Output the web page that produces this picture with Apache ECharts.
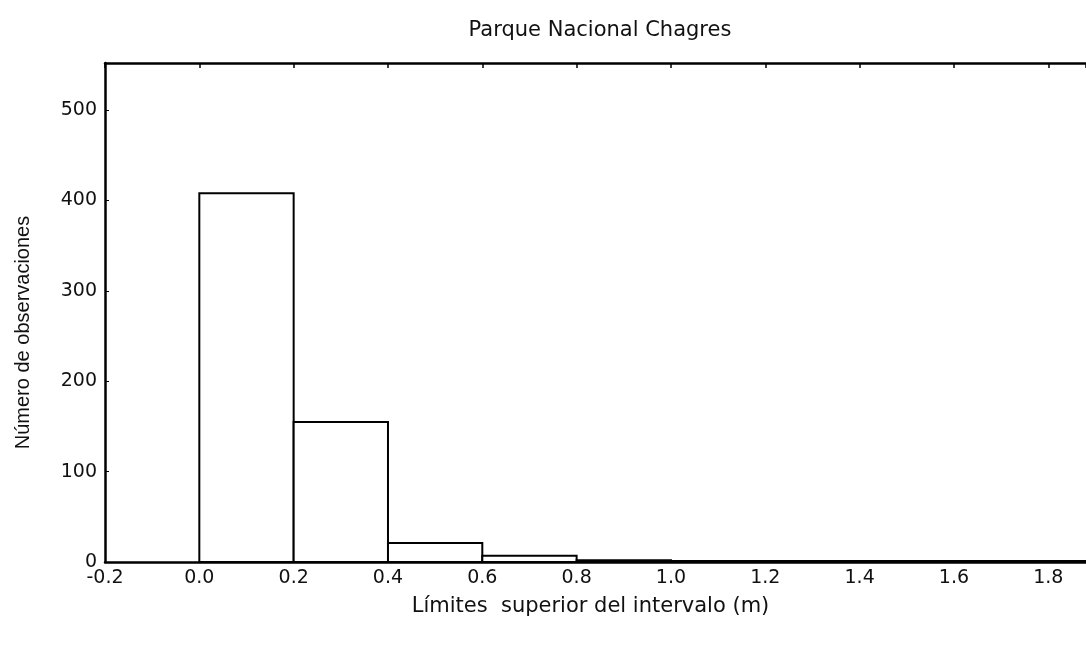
<!DOCTYPE html>
<html>
<head>
<meta charset="utf-8">
<script src="https://cdn.jsdelivr.net/npm/echarts@6/dist/echarts.min.js"></script>
<style>
  html, body { margin: 0; padding: 0; background: #fff; }
  #chart { width: 1086px; height: 646px; }
</style>
</head>
<body>
<div id="chart"></div>
<script>
// histogram bins (m) and counts
var binStart = [0.0, 0.2, 0.4, 0.6, 0.8, 1.0, 1.2, 1.4, 1.6, 1.8];
var binEnd   = [0.2, 0.4, 0.6, 0.8, 1.0, 1.2, 1.4, 1.6, 1.8, 2.0];
var counts   = [408, 155, 21, 7, 2, 1, 1, 1, 1, 1];

var titleText = "Parque Nacional Chagres";
var xName = "Límites  superior del intervalo (m)";
var yName = "Número de observaciones";

var histData = [];
binStart.forEach(function (lo, i) {
  histData.push([lo, binEnd[i], counts[i]]);
});

var font = "DejaVu Sans, Arial, sans-serif";
var fontNarrow = "Liberation Sans, Arial, sans-serif";

var option = {
  animation: false,
  backgroundColor: "#fff",
  title: {
    text: titleText,
    left: 595,
    top: 15,
    textAlign: "center",
    textStyle: { fontFamily: font, fontSize: 21, fontWeight: "normal", color: "#111" }
  },
  grid: { left: 105, right: 0, top: 63, bottom: 84 },
  xAxis: [
    {
      type: "value",
      min: -0.2,
      max: 1.88,
      interval: 0.2,
      position: "bottom",
      name: xName,
      nameLocation: "middle",
      nameGap: 34,
      nameTextStyle: { fontFamily: font, fontSize: 21, color: "#111", padding: [0, 10, 0, 0] },
      axisLine: { onZero: false, lineStyle: { color: "#000", width: 2.5 } },
      axisTick: { show: false },
      axisLabel: {
        showMaxLabel: false,
        margin: 7,
        fontFamily: font,
        fontSize: 19,
        color: "#111",
        formatter: function (v) { return v.toFixed(1); }
      },
      splitLine: { show: false }
    },
    {
      type: "value",
      min: -0.2,
      max: 1.88,
      interval: 0.2,
      position: "top",
      axisLine: { onZero: false, lineStyle: { color: "#000", width: 2.5 } },
      axisTick: { inside: true, length: 5, lineStyle: { color: "#000", width: 1.5 } },
      axisLabel: { show: false },
      splitLine: { show: false }
    }
  ],
  yAxis: {
    type: "value",
    min: 0,
    max: 552,
    interval: 100,
    name: yName,
    nameLocation: "middle",
    nameGap: 72,
    nameTextStyle: { fontFamily: fontNarrow, fontSize: 20, color: "#111", padding: [0, 40, 0, 0] },
    axisLine: { show: true, onZero: false, lineStyle: { color: "#000", width: 2.5 } },
    axisTick: { show: true, inside: true, length: 4, lineStyle: { color: "#000" } },
    axisLabel: {
      showMaxLabel: false,
      margin: 8,
      fontFamily: font,
      fontSize: 19,
      color: "#111"
    },
    splitLine: { show: false }
  },
  series: [
    {
      type: "custom",
      xAxisIndex: 0,
      encode: { x: [0, 1], y: 2 },
      data: histData,
      renderItem: function (params, api) {
        var p0 = api.coord([api.value(0), 0]);
        var p1 = api.coord([api.value(1), api.value(2)]);
        return {
          type: "rect",
          shape: { x: p0[0], y: p1[1], width: p1[0] - p0[0], height: p0[1] - p1[1] },
          style: { fill: "#fff", stroke: "#000", lineWidth: 2 }
        };
      }
    }
  ]
};

var myChart = echarts.init(document.getElementById("chart"));
myChart.setOption(option);
</script>
</body>
</html>
